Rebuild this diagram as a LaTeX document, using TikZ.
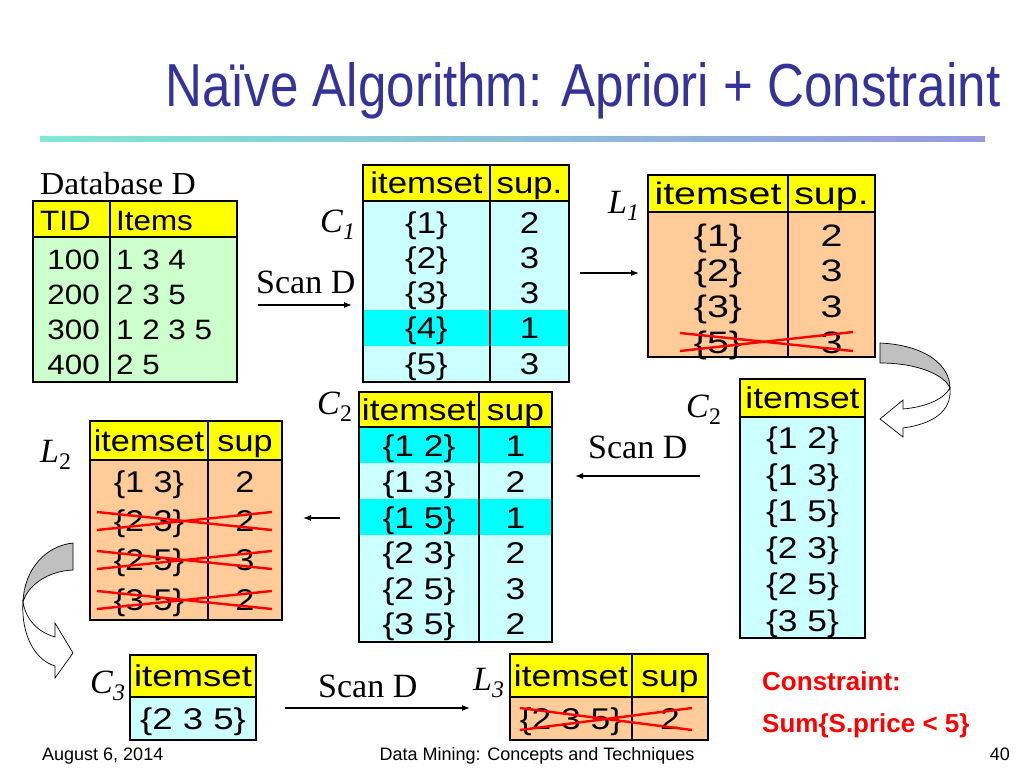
\documentclass[tikz,border=0pt]{standalone}
\usepackage{fontspec}
\usepackage{graphicx}
\setmainfont{Liberation Serif}
\newfontfamily\arialf{Liberation Sans}
\newfontfamily\fDB{Liberation Sans}[FakeStretch=1.12]
\newfontfamily\fCa{Liberation Sans}[FakeStretch=1.16]
\newfontfamily\fLa{Liberation Sans}[FakeStretch=1.27]
\newfontfamily\fCb{Liberation Sans}[FakeStretch=1.18]
\newfontfamily\fLb{Liberation Sans}[FakeStretch=1.14]
\newfontfamily\fCc{Liberation Sans}[FakeStretch=1.22]
\newfontfamily\serifwide{Liberation Serif}[FakeStretch=1.05]
\usetikzlibrary{arrows.meta}
\definecolor{hdryel}{RGB}{255,255,0}
\definecolor{cbody}{RGB}{204,255,255}
\definecolor{chi}{RGB}{0,255,255}
\definecolor{peach}{RGB}{255,204,153}
\definecolor{dbgreen}{RGB}{204,255,204}
\definecolor{titleblue}{RGB}{51,51,153}
\definecolor{xred}{RGB}{255,0,0}
\definecolor{lineA}{RGB}{128,232,212}
\definecolor{lineB}{RGB}{153,153,224}
\definecolor{arrgray}{RGB}{192,192,192}
\begin{document}
\begin{tikzpicture}[x=1pt,y=-1pt,
  frame/.style={draw=black,line width=1.6pt},
  tcell/.style={inner sep=0pt,text depth=0pt},
  tdb/.style={tcell,text height=20pt,font=\fDB\fontsize{28pt}{28pt}\selectfont},
  tca/.style={tcell,text height=21.5pt,font=\fCa\fontsize{30pt}{30pt}\selectfont},
  tla/.style={tcell,text height=22.2pt,font=\fLa\fontsize{31pt}{31pt}\selectfont},
  tcb/.style={tcell,text height=21.5pt,font=\fCb\fontsize{30pt}{30pt}\selectfont},
  tlb/.style={tcell,text height=21.5pt,font=\fLb\fontsize{30pt}{30pt}\selectfont},
  tcc/.style={tcell,text height=21.5pt,font=\fCc\fontsize{30pt}{30pt}\selectfont},
  lab/.style={inner sep=0pt,anchor=base west,font=\fontsize{34pt}{34pt}\selectfont},
  xline/.style={draw=xred,line width=2.4pt},
  arr/.style={-{Latex[length=8pt,width=6pt]},line width=1.2pt},
  curvarr/.style={draw=black,line width=0.7pt},
  foot/.style={inner sep=0pt,anchor=base,font=\arialf\fontsize{18pt}{18pt}\selectfont}]
\useasboundingbox (0,0) rectangle (1024,768);
\fill[white] (0,0) rectangle (1024,768);

% title
\node[anchor=base west,inner sep=0pt,text=titleblue] (title) at (165,106)
  {\resizebox{835pt}{44pt}{\arialf Naïve Algorithm: Apriori + Constraint}};
\shade[left color=lineA,right color=lineB] (40,136) rectangle (985,141);

% Database D
\node[inner sep=0pt,anchor=base west,font=\serifwide\fontsize{32pt}{32pt}\selectfont] (dbl) at (40,194) {Database D};
\fill[dbgreen] (33,237) rectangle (237,382);
\fill[hdryel] (33,201) rectangle (237,237);
\draw[frame] (33,201) rectangle (237,382) (33,237) -- (237,237) (110,201) -- (110,382);
\node[tdb,anchor=west] (db-h1) at (40,220) {TID};
\node[tdb,anchor=west] (db-h2) at (116,220) {Items};
\foreach \t/\u/\y [count=\i] in {100/1 3 4/259, 200/2 3 5/294, 300/1 2 3 5/329, 400/2 5/364}{
  \node[tdb,anchor=east] (db-\i a) at (100,\y) {\t};
  \node[tdb,anchor=west] (db-\i b) at (116,\y) {\u};}

% C1
\node[lab] (c1l) at (320,232) {\textit{C}\textsubscript{\textit{1}}};
\node[lab] (scan1) at (256,293) {Scan D};
\coordinate (a1s) at (258,305); \coordinate (a1e) at (352,305);
\draw[arr] (a1s) -- (a1e);
\fill[cbody] (363,201) rectangle (569,382);
\fill[chi] (363,310) rectangle (569,346);
\fill[hdryel] (363,165) rectangle (569,201);
\draw[frame] (363,165) rectangle (569,382) (363,201) -- (569,201) (490,165) -- (490,382);
\node[tca] (c1-h1) at (426.5,183) {itemset};
\node[tca] (c1-h2) at (529.5,183) {sup.};
\foreach \u/\v/\y [count=\i] in {\{1\}/2/223, \{2\}/3/258, \{3\}/3/293, \{4\}/1/328, \{5\}/3/364}{
  \node[tca] (c1-\i a) at (426.5,\y) {\u};
  \node[tca] (c1-\i b) at (529.5,\y) {\v};}

% C1 -> L1
\coordinate (a2s) at (580,273); \coordinate (a2e) at (639,273);
\draw[arr] (a2s) -- (a2e);

% L1
\node[lab] (l1l) at (608,213) {\textit{L}\textsubscript{\textit{1}}};
\fill[peach] (648,212) rectangle (875,357);
\fill[hdryel] (648,175) rectangle (875,212);
\draw[frame] (648,175) rectangle (875,357) (648,212) -- (875,212) (788,175) -- (788,357);
\node[tla] (l1-h1) at (718,193) {itemset};
\node[tla] (l1-h2) at (831.5,193) {sup.};
\foreach \u/\v/\y [count=\i] in {\{1\}/2/235, \{2\}/3/270, \{3\}/3/306, \{5\}/3/342}{
  \node[tla] (l1-\i a) at (718,\y) {\u};
  \node[tla] (l1-\i b) at (831.5,\y) {\v};}
\draw[xline] (680,333) -- (853,351);
\draw[xline] (680,351) -- (853,332);

% right curved arrow
\filldraw[curvarr,fill=arrgray] (880,343) .. controls (925,345) and (950,365) .. (950,388)
  .. controls (945,376) and (920,363) .. (880,363) -- cycle;
\filldraw[curvarr,fill=white] (950,388) .. controls (952,412) and (932,424) .. (903,428)
  -- (903,437) -- (880,419) -- (903,400) -- (903,409)
  .. controls (925,407) and (943,400) .. (950,388) -- cycle;

% C2 (right)
\node[lab] (c2rl) at (686,417) {\textit{C}\textsubscript{2}};
\node[lab] (scan2) at (588,458) {Scan D};
\coordinate (a3s) at (700,476); \coordinate (a3e) at (575,476);
\draw[arr] (a3s) -- (a3e);
\fill[cbody] (740,417) rectangle (865,638);
\fill[hdryel] (740,379) rectangle (865,417);
\draw[frame] (740,379) rectangle (865,638) (740,417) -- (865,417);
\node[tcb] (c2r-h) at (802.5,398) {itemset};
\foreach \u/\y [count=\i] in {\{1 2\}/438, \{1 3\}/475, \{1 5\}/511, \{2 3\}/548, \{2 5\}/584, \{3 5\}/621}{
  \node[tcb] (c2r-\i) at (802.5,\y) {\u};}

% C2 (left)
\node[lab] (c2ll) at (317,414) {\textit{C}\textsubscript{2}};
\fill[cbody] (359,427) rectangle (552,642);
\fill[chi] (359,427) rectangle (552,463);
\fill[chi] (359,499) rectangle (552,535);
\fill[hdryel] (359,392) rectangle (552,427);
\draw[frame] (359,392) rectangle (552,642) (359,427) -- (552,427) (479,392) -- (479,642);
\node[tcb] (c2l-h1) at (419,410) {itemset};
\node[tcb] (c2l-h2) at (515.5,410) {sup};
\foreach \u/\v/\y [count=\i] in {\{1 2\}/1/446, \{1 3\}/2/482, \{1 5\}/1/518, \{2 3\}/2/553, \{2 5\}/3/589, \{3 5\}/2/624}{
  \node[tcb] (c2l-\i a) at (419,\y) {\u};
  \node[tcb] (c2l-\i b) at (515.5,\y) {\v};}

% C2 -> L2
\coordinate (a4s) at (340,518); \coordinate (a4e) at (303,518);
\draw[arr] (a4s) -- (a4e);

% L2
\node[lab] (l2l) at (40,462) {\textit{L}\textsubscript{2}};
\fill[peach] (90,460) rectangle (282,620);
\fill[hdryel] (90,421) rectangle (282,460);
\draw[frame] (90,421) rectangle (282,620) (90,460) -- (282,460) (208,421) -- (208,620);
\node[tlb] (l2-h1) at (149,441) {itemset};
\node[tlb] (l2-h2) at (245,441) {sup};
\foreach \u/\v/\y [count=\i] in {\{1 3\}/2/482, \{2 3\}/2/521, \{2 5\}/3/560, \{3 5\}/2/600}{
  \node[tlb] (l2-\i a) at (149,\y) {\u};
  \node[tlb] (l2-\i b) at (245,\y) {\v};}
\foreach \y in {521,560,600}{
  \draw[xline] (97,\y-9) -- (272,\y+9);
  \draw[xline] (97,\y+9) -- (272,\y-9);}

% left curved arrow
\filldraw[curvarr,fill=arrgray] (73,543) .. controls (45,546) and (24,570) .. (23,602)
  .. controls (28,585) and (48,571) .. (73,570) -- cycle;
\filldraw[curvarr,fill=white] (23,602) .. controls (21,635) and (35,660) .. (55,666)
  -- (55,678) -- (73,653) -- (55,623) -- (55,637)
  .. controls (38,632) and (26,620) .. (23,602) -- cycle;

% C3
\node[lab] (c3l) at (90,693) {\textit{C}\textsubscript{\textit{3}}};
\fill[cbody] (130,697) rectangle (256,740);
\fill[hdryel] (130,655) rectangle (256,697);
\draw[frame] (130,655) rectangle (256,740) (130,697) -- (256,697);
\node[tcc] (c3-h) at (193,676) {itemset};
\node[tcc] (c3-1) at (193,719) {\{2 3 5\}};

% C3 -> L3
\node[lab] (scan3) at (318,697) {Scan D};
\coordinate (a5s) at (285,708); \coordinate (a5e) at (470,708);
\draw[arr] (a5s) -- (a5e);

% L3
\node[lab] (l3l) at (473,690) {\textit{L}\textsubscript{\textit{3}}};
\fill[peach] (510,697) rectangle (708,740);
\fill[hdryel] (510,654) rectangle (708,697);
\draw[frame] (510,654) rectangle (708,740) (510,697) -- (708,697) (632,654) -- (632,740);
\node[tcb] (l3-h1) at (571,676) {itemset};
\node[tcb] (l3-h2) at (670,676) {sup};
\node[tcb] (l3-1a) at (571,719) {\{2 3 5\}};
\node[tcb] (l3-1b) at (670,719) {2};
\draw[xline] (520,708) -- (692,730);
\draw[xline] (520,730) -- (692,708);

% constraint
\node[anchor=base west,inner sep=0pt,text=xred,font=\arialf\bfseries\fontsize{26pt}{26pt}\selectfont] (con1) at (762,690) {Constraint:};
\node[anchor=base west,inner sep=0pt,text=xred,font=\arialf\bfseries\fontsize{26pt}{26pt}\selectfont] (con2) at (762,732) {Sum\{S.price < 5\}};

% footer
\node[foot,anchor=base west] (date) at (42,760) {August 6, 2014};
\node[foot] (course) at (537,760) {Data Mining: Concepts and Techniques};
\node[foot,anchor=base east] (pnum) at (1010,760) {40};
\end{tikzpicture}
\end{document}
